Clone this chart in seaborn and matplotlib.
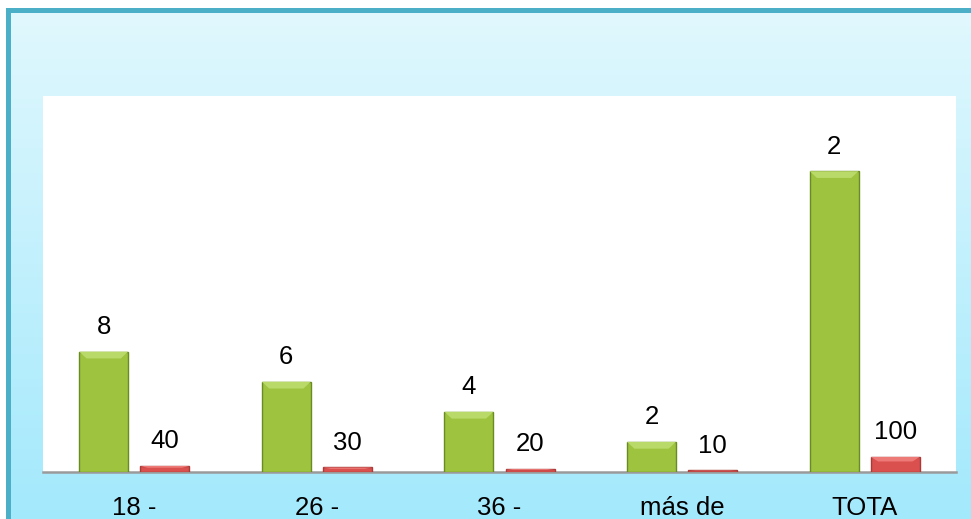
import numpy as np
import pandas as pd
import matplotlib
matplotlib.use("Agg")
import matplotlib.pyplot as plt
from matplotlib.patches import Rectangle, Polygon
import seaborn as sns

categories = ["18 -", "26 -", "36 -", "más de", "TOTA"]
series = ["Frecuencia", "Porcentaje"]
freq_values = [8, 6, 4, 2, 20]
pct_values = [0.4, 0.3, 0.2, 0.1, 1.0]
freq_labels = ["8", "6", "4", "2", "2"]
pct_labels = ["40", "30", "20", "10", "100"]

df = pd.DataFrame({
    "categoria": categories * 2,
    "serie": [series[0]] * len(categories) + [series[1]] * len(categories),
    "valor": freq_values + pct_values,
})

sns.set_theme(style="white")
plt.rcParams["font.family"] = ["Liberation Sans", "DejaVu Sans"]

W, H = 971, 519
fig = plt.figure(figsize=(W / 100, H / 100), dpi=100)
fig.patch.set_facecolor("white")

# background gradient
bg = fig.add_axes([0, 0, 1, 1], zorder=0)
top = np.array([0xE2, 0xF8, 0xFE]) / 255
bot = np.array([0xA3, 0xE9, 0xFC]) / 255
t = np.linspace(0, 1, 256)[:, None]
grad = top[None, :] * (1 - t) + bot[None, :] * t
bg.imshow(grad[:, None, :], aspect="auto", extent=[0, 1, 0, 1], origin="upper")
bg.set_xlim(0, 1)
bg.set_ylim(0, 1)
bg.axis("off")
# white margin outside the frame (top and left)
bg.add_patch(Rectangle((0, 1 - 8 / H), 1, 8 / H, facecolor="white", edgecolor="none"))
bg.add_patch(Rectangle((0, 0), 6 / W, 1, facecolor="white", edgecolor="none"))
# teal frame borders
bg.add_patch(Rectangle((6 / W, 0), 4.5 / W, 1 - 8 / H, facecolor="#4BAFC8", edgecolor="none"))
bg.add_patch(Rectangle((6 / W, 1 - 12.5 / H), 1, 4.5 / H, facecolor="#4BAFC8", edgecolor="none"))

left, right = 43 / W, 956 / W
bottom, topy = (H - 472) / H, (H - 96) / H
ax = fig.add_axes([left, bottom, right - left, topy - bottom], zorder=1)
ax.set_facecolor("white")

sns.barplot(data=df, x="categoria", y="valor", hue="serie",
            palette=["#9DC33F", "#D9504E"], width=0.67, gap=0.2,
            saturation=1, ax=ax, legend=False, zorder=3)

edges = ["#6A8A24", "#A83A38"]
lights = ["#B9D968", "#EE7A77"]
for ci, cont in enumerate(ax.containers):
    for p in cont.patches:
        p.set_edgecolor(edges[ci])
        p.set_linewidth(1.0)
        x0, y0 = p.get_x(), p.get_y()
        w, h = p.get_width(), p.get_height()
        # small bevel at the top of each bar
        bev_y = min(0.45, h * 0.3)
        bev_x = w * 0.15
        poly = Polygon([(x0, y0 + h), (x0 + w, y0 + h), (x0 + w - bev_x, y0 + h - bev_y),
                        (x0 + bev_x, y0 + h - bev_y)], closed=True,
                       facecolor=lights[ci], edgecolor="none", zorder=4)
        ax.add_patch(poly)

ax.bar_label(ax.containers[0], labels=freq_labels, padding=9, fontsize=18.5, color="black")
ax.bar_label(ax.containers[1], labels=pct_labels, padding=9, fontsize=18.5, color="black")

ax.set_ylim(0, 25)
ax.set_xlim(-0.5, 4.5)
ax.set_xlabel("")
ax.set_ylabel("")
ax.set_yticks([])
for s in ["top", "left", "right"]:
    ax.spines[s].set_visible(False)
ax.spines["bottom"].set_color("#9A9A9A")
ax.spines["bottom"].set_linewidth(1.8)
ax.tick_params(axis="x", length=0, pad=17, labelsize=18.5, colors="black")

fig.savefig("out.png", dpi=100)
